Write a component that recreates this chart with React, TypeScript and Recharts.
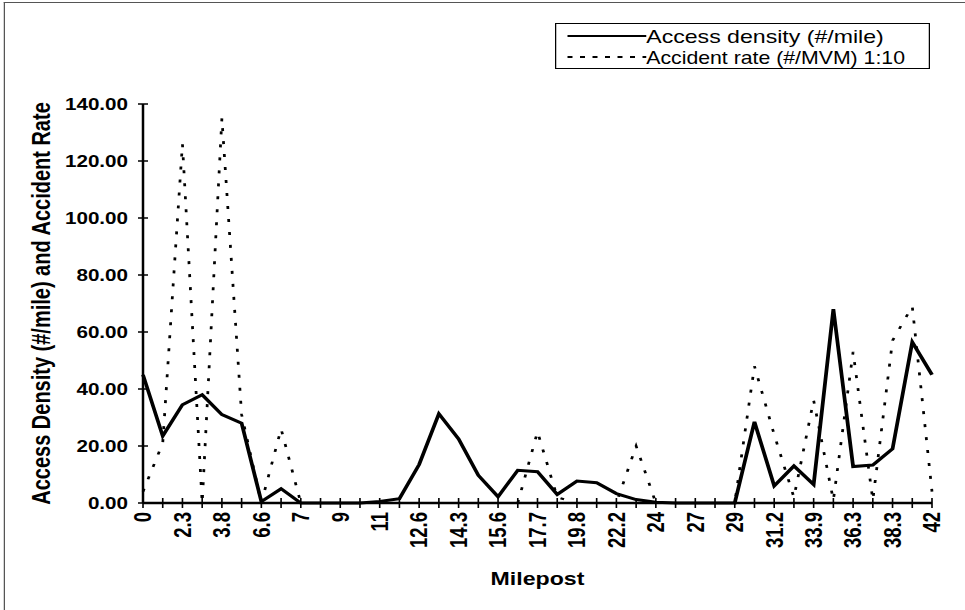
import React from 'react';
import { LineChart, Line, XAxis, YAxis } from 'recharts';

// Milepost labels shown on every second category
const milepostLabels = ['0', '2.3', '3.8', '6.6', '7', '9', '11', '12.6', '14.3', '15.6', '17.7', '19.8', '22.2', '24', '27', '29', '31.2', '33.9', '36.3', '38.3', '42'];

// Access density (#/mile), one value per category
const accessDensity = [45, 23.5, 34.5, 38, 31, 28, 0.5, 5, 0, 0, 0, 0, 0.5, 1.5, 13.5, 31.3, 22.5, 9.7, 2.2, 11.5, 11, 3, 7.7, 7.1, 3.3, 1.2, 0.3, 0, 0, 0, 0, 28.5, 6, 13, 6.5, 68, 12.8, 13.3, 19, 56.5, 45];

// Accident rate (#/MVM) 1:10, one value per category
const accidentRate = [4, 21, 126, 0, 135, 31, 0, 26, 0, 0, 0, 0, 0, 0, 0, 0, 0, 0, 0, 0, 25, 2, 0, 0, 0, 20, 0, 0, 0, 0, 0, 48, 24, 2, 36, 1, 53, 1, 57, 69, 4];

const yTicks = [0, 20, 40, 60, 80, 100, 120, 140];

const data = accessDensity.map((v, i) => ({
  i: String(i),
  label: i % 2 === 0 ? milepostLabels[i / 2] : '',
  access: v,
  accident: accidentRate[i],
}));

const SX = 1.25;
const W = 965 / SX;
const H = 610;
const FONT = '"Liberation Sans", Arial, Helvetica, sans-serif';

const YTick = (props: any) => {
  const { x, y, payload } = props;
  const ax = x + 12;
  return (
    <g>
      <line x1={ax - 4} x2={ax + 4} y1={y} y2={y} stroke="#000" strokeWidth={1.5} />
      <text x={x} y={y} dy="0.36em" textAnchor="end" fontFamily={FONT} fontSize={16.5} fontWeight="bold" fill="#000">
        {Number(payload.value).toFixed(2)}
      </text>
    </g>
  );
};

const XTick = (props: any) => {
  const { x, y, index } = props;
  const ay = y - 9;
  const lbl = data[index] ? data[index].label : '';
  return (
    <g>
      <line x1={x} x2={x} y1={ay - 5} y2={ay + 5} stroke="#000" strokeWidth={1.3} />
      {lbl !== '' && (
        <text x={x} y={y} dy="0.36em" textAnchor="end" transform={`rotate(-90, ${x}, ${y})`} fontFamily={FONT} fontSize={18.5} fontWeight="bold" fill="#000">
          {lbl}
        </text>
      )}
    </g>
  );
};

export default function App() {
  return (
    <div style={{ position: 'absolute', left: 0, top: 0, width: 965, height: 610, overflow: 'hidden', background: '#fff' }}>
      <div style={{ position: 'absolute', left: 0, top: 0, width: W, height: H, transform: `scaleX(${SX})`, transformOrigin: '0 0' }}>
        <div style={{ position: 'absolute', left: 3, top: 2, width: W - 3, height: H - 2, borderLeft: '1px solid #555', borderTop: '1px solid #555', boxSizing: 'border-box' }} />
        <LineChart width={W} height={H} data={data} margin={{ top: 104, right: 26.4, bottom: 0, left: 0 }} style={{ fontFamily: FONT }}>
          <XAxis
            dataKey="i"
            type="category"
            interval={0}
            height={107}
            tickSize={5}
            tickMargin={4}
            tickLine={false}
            tick={<XTick />}
            axisLine={{ stroke: '#000', strokeWidth: 2.5 }}
            label={{ value: 'Milepost', position: 'insideBottom', offset: 25, style: { fontSize: 18.5, fontWeight: 'bold', fill: '#000', fontFamily: FONT } }}
          />
          <XAxis xAxisId="top" dataKey="i" orientation="top" height={0} tick={false} tickLine={false} axisLine={{ stroke: '#000', strokeWidth: 2 }} />
          <YAxis
            domain={[0, 140]}
            ticks={yTicks}
            interval={0}
            width={114.4}
            tickSize={4}
            tickMargin={8}
            tickLine={false}
            tick={<YTick />}
            axisLine={{ stroke: '#000', strokeWidth: 2 }}
            label={{ value: 'Access Density (#/mile) and Accident Rate', angle: -90, position: 'insideLeft', offset: 33, style: { textAnchor: 'middle', fontSize: 20, fontWeight: 'bold', fill: '#000', fontFamily: FONT } }}
          />
          <YAxis yAxisId="right" orientation="right" domain={[0, 140]} width={0} tick={false} tickLine={false} axisLine={{ stroke: '#000', strokeWidth: 2 }} />
          <Line type="linear" dataKey="accident" stroke="#000" strokeWidth={2.2} strokeDasharray="3 10" dot={false} isAnimationActive={false} />
          <Line type="linear" dataKey="access" stroke="#000" strokeWidth={3} dot={false} isAnimationActive={false} />
        </LineChart>
        <div style={{ position: 'absolute', left: 444, top: 23, width: 300, height: 46, border: '1px solid #000', boxSizing: 'border-box', background: '#fff' }}>
          <svg width={298} height={44} style={{ display: 'block' }}>
            <line x1={9} x2={72} y1={12} y2={12} stroke="#000" strokeWidth={2} />
            <text x={72} y={12} dy="0.36em" fontFamily={FONT} fontSize={18.5} fill="#000" textLength={190} lengthAdjust="spacingAndGlyphs">Access density (#/mile)</text>
            <line x1={9} x2={72} y1={33} y2={33} stroke="#000" strokeWidth={2} strokeDasharray="4 6" />
            <text x={72} y={33} dy="0.36em" fontFamily={FONT} fontSize={18.5} fill="#000" textLength={207} lengthAdjust="spacingAndGlyphs">Accident rate (#/MVM) 1:10</text>
          </svg>
        </div>
      </div>
    </div>
  );
}
